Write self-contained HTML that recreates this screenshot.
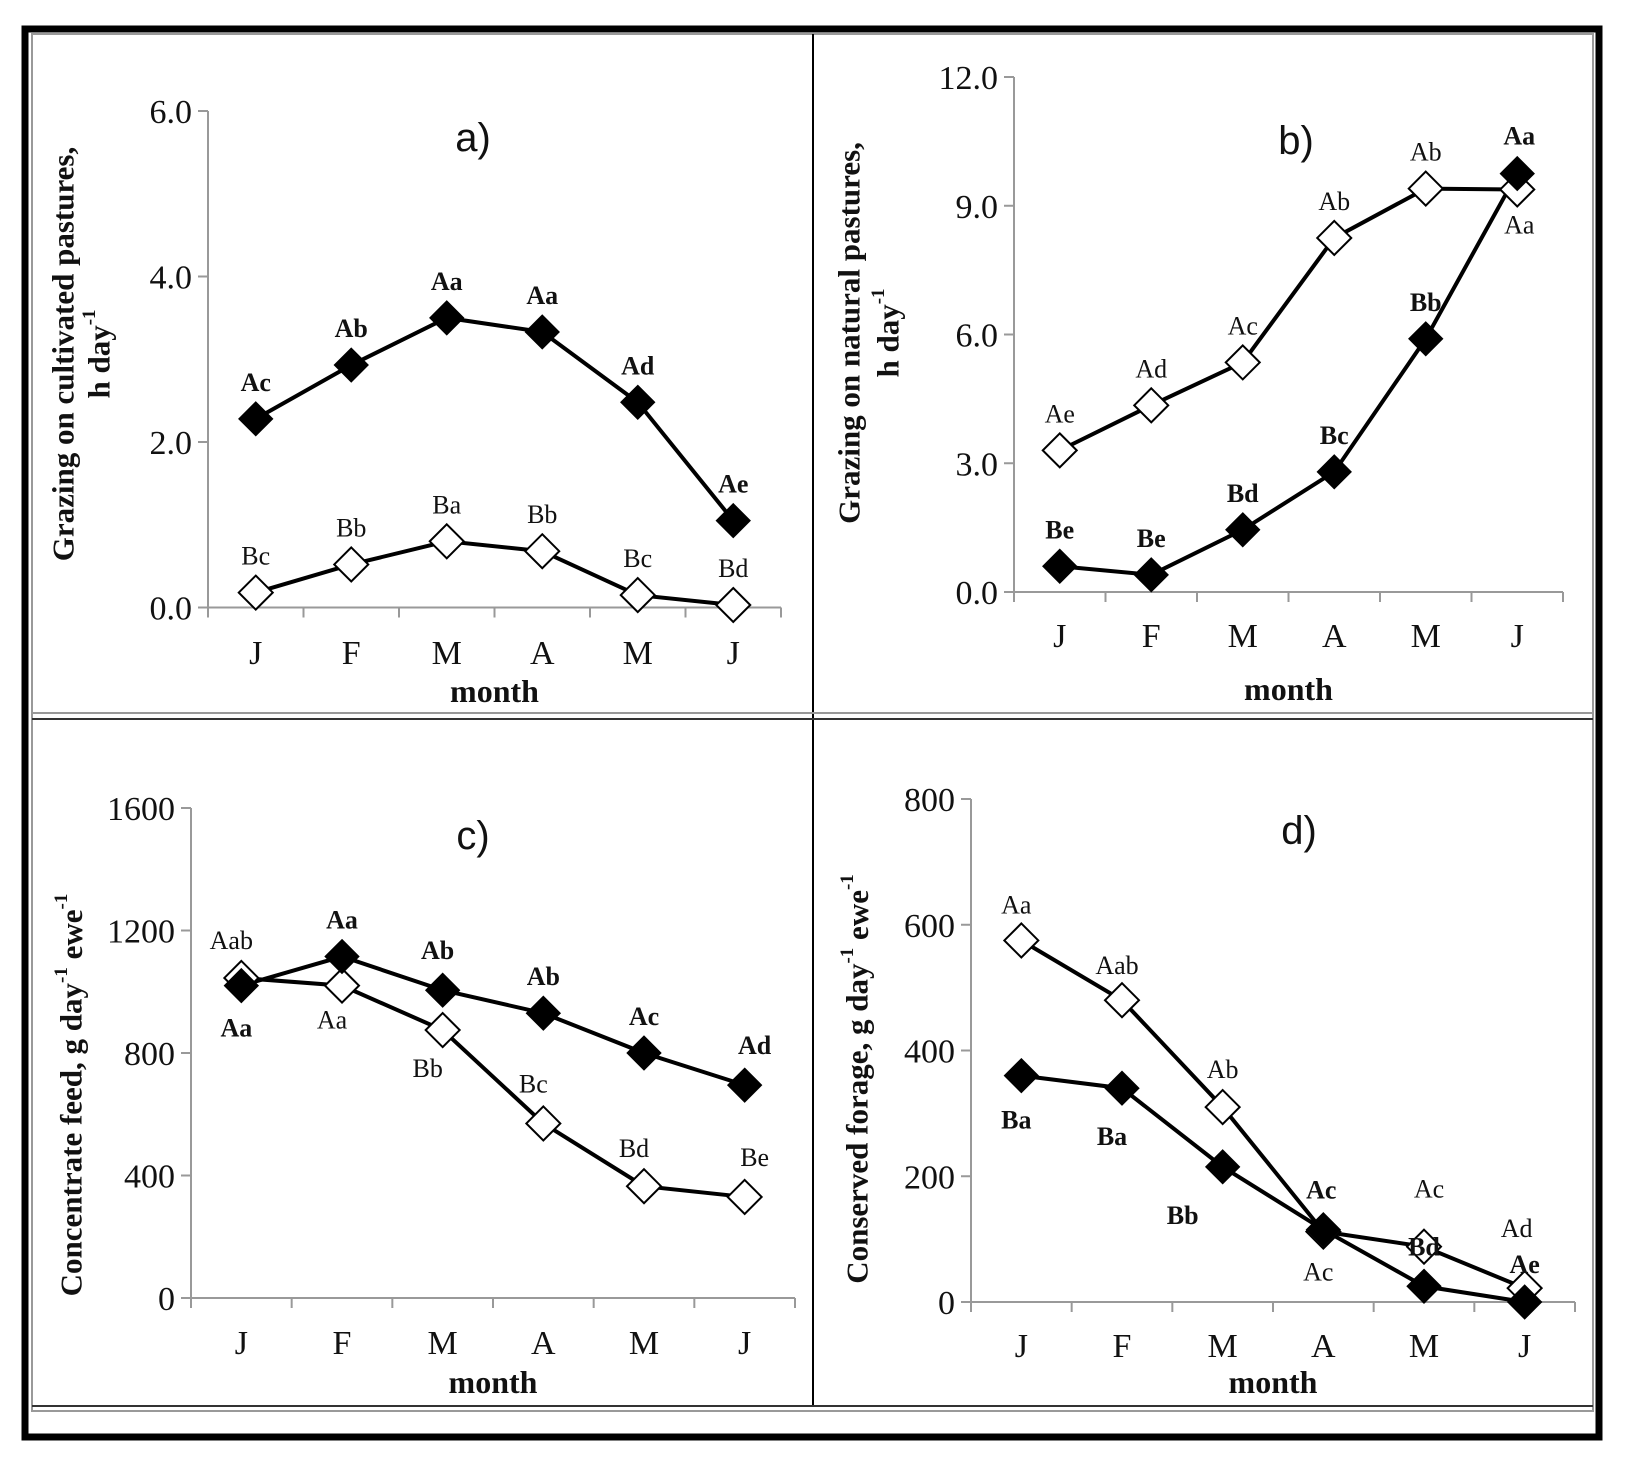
<!DOCTYPE html>
<html><head><meta charset="utf-8"><style>
html,body{margin:0;padding:0;background:#fff;}
svg{display:block;}
</style></head><body>
<svg id="fig" width="1630" height="1460" viewBox="0 0 1630 1460" xmlns="http://www.w3.org/2000/svg">
<rect x="0" y="0" width="1630" height="1460" fill="#fff"/>
<rect x="25" y="29" width="1574" height="1408" fill="none" stroke="#000" stroke-width="7"/>
<rect x="32" y="34" width="1561" height="1377" fill="none" stroke="#999" stroke-width="2"/>
<line x1="813" y1="34" x2="813" y2="1406" stroke="#000" stroke-width="2"/>
<line x1="32" y1="713" x2="1593" y2="713" stroke="#999" stroke-width="2"/>
<line x1="32" y1="719" x2="1593" y2="719" stroke="#333" stroke-width="2"/>
<line x1="32" y1="1406" x2="1593" y2="1406" stroke="#333" stroke-width="2"/>
<g id="plots"></g>
</svg>
<script>
const months = ["J","F","M","A","M","J"];
// panel a
const aFilled = [2.28, 2.93, 3.5, 3.33, 2.48, 1.05];
const aOpen = [0.18, 0.52, 0.8, 0.68, 0.15, 0.03];
const aFilledLabels = ["Ac","Ab","Aa","Aa","Ad","Ae"];
const aOpenLabels = ["Bc","Bb","Ba","Bb","Bc","Bd"];
const aTicks = ["0.0","2.0","4.0","6.0"];
const aTickVals = [0, 2, 4, 6];
// panel b
const bFilled = [0.6, 0.4, 1.45, 2.8, 5.9, 9.75];
const bOpen = [3.3, 4.35, 5.35, 8.25, 9.4, 9.38];
const bFilledLabels = ["Be","Be","Bd","Bc","Bb","Aa"];
const bOpenLabels = ["Ae","Ad","Ac","Ab","Ab","Aa"];
const bTicks = ["0.0","3.0","6.0","9.0","12.0"];
const bTickVals = [0, 3, 6, 9, 12];
// panel c
const cFilled = [1020, 1115, 1005, 930, 800, 695];
const cOpen = [1045, 1020, 875, 570, 365, 330];
const cFilledLabels = ["Aa","Aa","Ab","Ab","Ac","Ad"];
const cOpenLabels = ["Aab","Aa","Bb","Bc","Bd","Be"];
const cTicks = ["0","400","800","1200","1600"];
const cTickVals = [0, 400, 800, 1200, 1600];
// panel d
const dFilled = [360, 340, 215, 115, 25, 0];
const dOpen = [575, 480, 310, 112, 88, 22];
const dFilledLabels = ["Ba","Ba","Bb","Ac","Bd","Ae"];
const dOpenLabels = ["Aa","Aab","Ab","Ac","Ac","Ad"];
const dTicks = ["0","200","400","600","800"];
const dTickVals = [0, 200, 400, 600, 800];

const NS = "http://www.w3.org/2000/svg";
const root = document.getElementById("plots");
function el(tag, attrs, parent, text){
  const e = document.createElementNS(NS, tag);
  for (const k in attrs) e.setAttribute(k, attrs[k]);
  if (text !== undefined) e.textContent = text;
  (parent||root).appendChild(e);
  return e;
}
function diamond(cx, cy, filled, parent){
  const r = 17;
  return el("polygon", {points:`${cx},${cy-r} ${cx+r},${cy} ${cx},${cy+r} ${cx-r},${cy}`,
    fill: filled ? "#000" : "#fff", stroke:"#000", "stroke-width": filled?1:2}, parent);
}
function panel(p){
  const g = el("g", {});
  
  
  const band = (p.x1 - p.x0) / months.length;
  const xs = i => p.x0 + band * (i + 0.5);
  const ys = v => p.yb - (v - p.min) / (p.max - p.min) * (p.yb - p.yt);
  const ya = el("line", {x1:p.x0, y1:p.yt, x2:p.x0, y2:p.yb+10, stroke:"#999", "stroke-width":2}, g);
  
  
  const xa = el("line", {x1:p.x0-10, y1:p.yb, x2:p.x1, y2:p.yb, stroke:"#999", "stroke-width":2}, g);
  
  
  p.tickVals.forEach((v, i) => {
    el("line", {x1:p.x0-10, y1:ys(v), x2:p.x0, y2:ys(v), stroke:"#999", "stroke-width":2}, g);
    const t = el("text", {x:p.x0-16, y:ys(v)+12, "text-anchor":"end", "font-family":"Liberation Serif, serif", "font-size":34, fill:"#111"}, g, p.ticks[i]);
    
    
  });
  for (let i = 0; i <= months.length; i++) {
    const x = p.x0 + band * i;
    el("line", {x1:x, y1:p.yb, x2:x, y2:p.yb+10, stroke:"#999", "stroke-width":2}, g);
  }
  months.forEach((m, i) => {
    const t = el("text", {x:xs(i), y:p.monthY+12, "text-anchor":"middle", "font-family":"Liberation Serif, serif", "font-size":34, fill:"#111"}, g, m);
    
    
  });
  const xt = el("text", {x:(p.x0+p.x1)/2, y:p.titleY+11, "text-anchor":"middle", "font-family":"Liberation Serif, serif", "font-weight":"bold", "font-size":32, fill:"#111"}, g, "month");
  
  
  p.ylines.forEach((ln, k) => {
    const t = el("text", {x:0, y:0, transform:`translate(${p.ytx[k]},${p.ytc}) rotate(-90)`, "text-anchor":"middle", "dominant-baseline":"central", "font-family":"Liberation Serif, serif", "font-weight":"bold", "font-size":31, fill:"#111"}, g);
    t.innerHTML = ln;
    
    
  });
  const pt = el("text", {x:p.plx, y:p.ply+14, "text-anchor":"middle", "font-family":"Liberation Sans, sans-serif", "font-size":40, fill:"#111"}, g, p.plabel);
  
  
  [[p.open, false], [p.filled, true]].forEach(([vals, filled]) => {
    const d = vals.map((v, i) => (i ? "L" : "M") + xs(i) + "," + ys(v)).join(" ");
    const line = el("path", {d, fill:"none", stroke:"#000", "stroke-width":4}, g);
    
    
  });
  [[p.open, false, p.openLabels, p.openOff], [p.filled, true, p.filledLabels, p.filledOff]].forEach(([vals, filled, labs, offs]) => {
    vals.forEach((v, i) => {
      const m = diamond(xs(i), ys(v), filled, g);
      
      
      const o = offs[i];
      const t = el("text", {x:xs(i)+o[0], y:ys(v)+o[1]+9, "text-anchor":"middle", "font-family":"Liberation Serif, serif", "font-weight": filled?"bold":"normal", "font-size":26, fill:"#111"}, g, labs[i]);
      
      
    });
  });
}
const up = [0,-37];
panel({name:"panel-a", x0:208, x1:781, yt:111, yb:607.5, min:0, max:6, ticks:aTicks, tickVals:aTickVals,
  filled:aFilled, open:aOpen, filledLabels:aFilledLabels, openLabels:aOpenLabels,
  filledOff:[up,up,up,up,up,up], openOff:[up,up,up,up,up,up],
  monthY:652, titleY:691, ylines:["Grazing on cultivated pastures,","h day<tspan font-size='19' dy='-10'>-1</tspan>"], ytx:[63,99], ytc:354,
  plabel:"a)", plx:473, ply:137});
panel({name:"panel-b", x0:1014, x1:1563, yt:77, yb:592, min:0, max:12, ticks:bTicks, tickVals:bTickVals,
  filled:bFilled, open:bOpen, filledLabels:bFilledLabels, openLabels:bOpenLabels,
  filledOff:[up,up,up,up,up,[2,-38]], openOff:[up,up,up,up,up,[2,35]],
  monthY:635, titleY:689, ylines:["Grazing on natural pastures,","h day<tspan font-size='19' dy='-10'>-1</tspan>"], ytx:[849,888], ytc:333,
  plabel:"b)", plx:1296, ply:140});
panel({name:"panel-c", x0:191, x1:795, yt:808, yb:1298, min:0, max:1600, ticks:cTicks, tickVals:cTickVals,
  filled:cFilled, open:cOpen, filledLabels:cFilledLabels, openLabels:cOpenLabels,
  filledOff:[[-5,42],up,[-5,-40],up,up,[10,-40]], openOff:[[-10,-38],[-10,34],[-15,38],[-10,-40],[-10,-38],[10,-40]],
  monthY:1342, titleY:1382, ylines:["Concentrate feed, g day<tspan font-size='19' dy='-10'>-1</tspan><tspan dy='10'> ewe</tspan><tspan font-size='19' dy='-10'>-1</tspan>"], ytx:[71], ytc:1095,
  plabel:"c)", plx:473, ply:835});
panel({name:"panel-d", x0:971, x1:1575, yt:799, yb:1302, min:0, max:800, ticks:dTicks, tickVals:dTickVals,
  filled:dFilled, open:dOpen, filledLabels:dFilledLabels, openLabels:dOpenLabels,
  filledOff:[[-5,44],[-10,48],[-40,48],[-2,-40],[0,-40],[0,-38]], openOff:[[-5,-36],[-5,-35],[0,-38],[-5,40],[5,-58],[-8,-60]],
  monthY:1345, titleY:1382, ylines:["Conserved forage, g day<tspan font-size='19' dy='-10'>-1</tspan><tspan dy='10'> ewe</tspan><tspan font-size='19' dy='-10'>-1</tspan>"], ytx:[857], ytc:1079,
  plabel:"d)", plx:1299, ply:830});
</script>
</body></html>
